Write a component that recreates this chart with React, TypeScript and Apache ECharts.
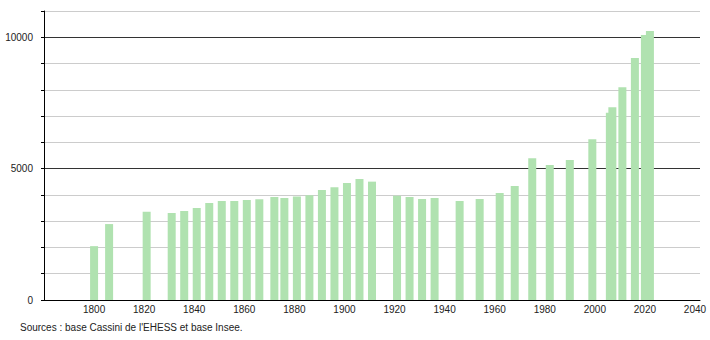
import React, { useEffect, useRef } from "react";
import * as echarts from "echarts";

const years = [1800, 1806, 1821, 1831, 1836, 1841, 1846, 1851, 1856, 1861, 1866, 1872, 1876, 1881, 1886, 1891, 1896, 1901, 1906, 1911, 1921, 1926, 1931, 1936, 1946, 1954, 1962, 1968, 1975, 1982, 1990, 1999, 2006, 2007, 2011, 2016, 2020, 2022];
const population = [2050, 2890, 3360, 3310, 3385, 3500, 3690, 3765, 3770, 3808, 3835, 3920, 3885, 3935, 3985, 4190, 4290, 4455, 4608, 4505, 3972, 3922, 3846, 3884, 3770, 3846, 4075, 4341, 5395, 5141, 5331, 6120, 7130, 7335, 8100, 9215, 10091, 10243];
const yLabels = [0, 5000, 10000];
const sourceText = "Sources : base Cassini de l'EHESS et base Insee.";

export default function App() {
  const ref = useRef<HTMLDivElement>(null);
  useEffect(() => {
    document.body.style.margin = "0";
    const chart = echarts.init(ref.current!, null, { renderer: "svg" });
    const font = "'Liberation Sans', Arial, sans-serif";
    chart.setOption({
      animation: false,
      backgroundColor: "#ffffff",
      grid: { left: 44, right: 10, top: 11, bottom: 40 },
      xAxis: {
        type: "value",
        min: 1780,
        max: 2042,
        interval: 20,
        axisLine: { show: true, lineStyle: { color: "#000", width: 1 } },
        axisTick: { show: false },
        splitLine: { show: false },
        axisLabel: {
          color: "#222",
          fontSize: 10,
          fontFamily: font,
          margin: 4,
          formatter: (v: number) => (v % 20 === 0 && v > 1780 && v <= 2040 ? String(v) : ""),
        },
      },
      yAxis: {
        type: "value",
        min: 0,
        max: 11000,
        interval: 1000,
        axisLine: { show: true, lineStyle: { color: "#000", width: 1 } },
        axisTick: { show: true, length: 3, lineStyle: { color: "#000" } },
        splitLine: {
          show: true,
          lineStyle: { color: ["#333", "#ccc", "#ccc", "#ccc", "#ccc"], width: 1 },
        },
        axisLabel: {
          color: "#222",
          fontSize: 10,
          fontFamily: font,
          margin: 11,
          formatter: (v: number) => (yLabels.includes(v) ? String(v) : ""),
        },
      },
      series: [
        {
          type: "bar",
          data: years.map((y, i) => [y, population[i]]),
          barWidth: 8,
          itemStyle: { color: "#b0e2b0" },
        },
      ],
      graphic: [
        {
          type: "text",
          left: 20,
          top: 322,
          style: { text: sourceText, fill: "#222", font: `10px ${font}` },
        },
      ],
    });
    return () => chart.dispose();
  }, []);
  return <div ref={ref} style={{ width: 710, height: 340 }} />;
}
